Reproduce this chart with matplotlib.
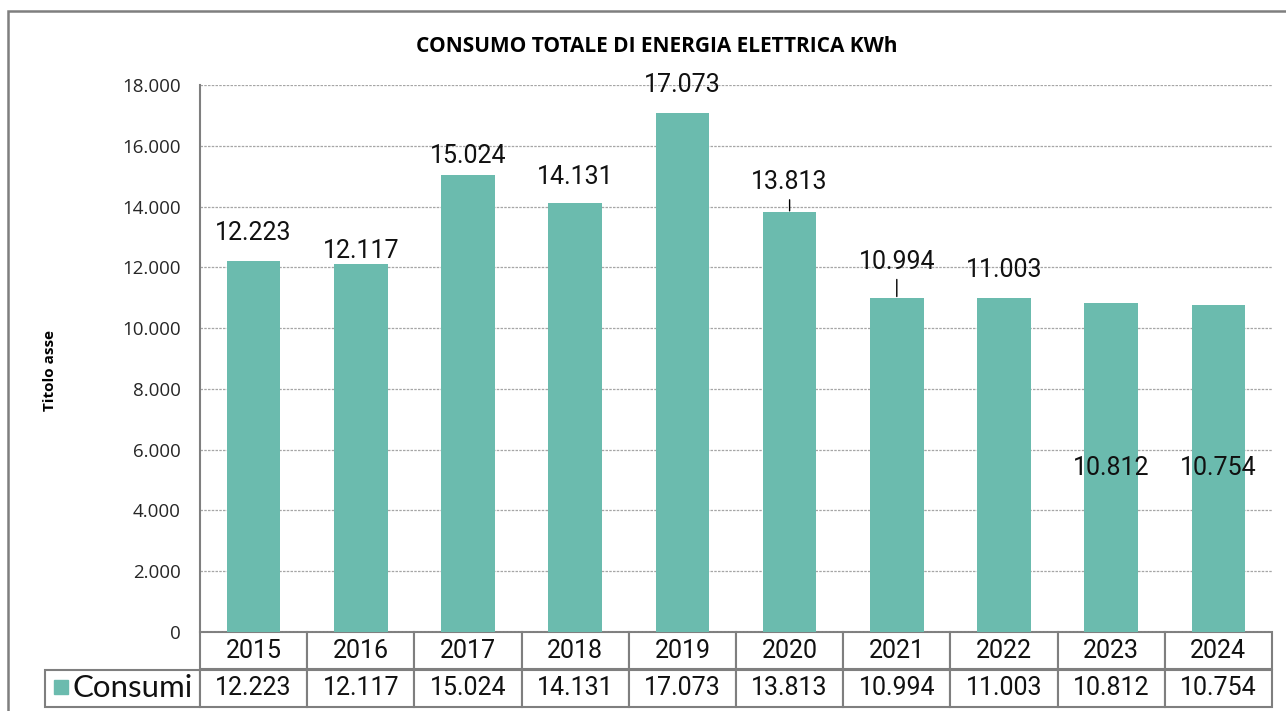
import matplotlib.pyplot as plt
from matplotlib.patches import Rectangle

# dati
anni = ['2015', '2016', '2017', '2018', '2019', '2020', '2021', '2022', '2023', '2024']
consumi = [12223, 12117, 15024, 14131, 17073, 13813, 10994, 11003, 10812, 10754]
nome_serie = 'Consumi'
titolo = 'CONSUMO TOTALE DI ENERGIA ELETTRICA KWh'
titolo_asse = 'Titolo asse'

# spostamento verticale delle etichette (pixel) e linee guida
label_dy = [28, 13, 19, 26, 28, 30, 36, 28, -165, -163]
leader = [False, False, False, False, False, True, True, False, False, False]

colore = '#6BBBAE'
grigio = '#7f7f7f'


def fmt(v):
    return f'{v:,}'.replace(',', '.')


W, H = 1286, 711
fig = plt.figure(figsize=(W / 100, H / 100), dpi=100)
ax = fig.add_axes([200 / W, 1 - 632 / H, 1072 / W, 547 / H])

x = range(len(anni))
ax.bar(x, consumi, width=0.5, color=colore, zorder=2)
ax.set_xlim(-0.5, len(anni) - 0.5)
ax.set_ylim(0, 18000)
ax.set_yticks(range(0, 18001, 2000))
ax.set_yticklabels([fmt(v) for v in range(0, 18001, 2000)],
                   fontfamily='Open Sans', fontsize=13.5, color='#262626')
ax.set_xticks([])
ax.tick_params(axis='y', length=0, pad=14)
ax.yaxis.grid(True, linestyle=(0, (2, 1)), color='#a6a6a6', lw=0.9)
ax.set_axisbelow(True)
for s in ['top', 'right', 'bottom']:
    ax.spines[s].set_visible(False)
ax.spines['left'].set_color(grigio)
ax.spines['left'].set_linewidth(1.5)

# etichette dati
for i, v in enumerate(consumi):
    kw = {}
    if leader[i]:
        kw['arrowprops'] = dict(arrowstyle='-', color='black', lw=1,
                                shrinkA=2, shrinkB=1)
    ax.annotate(fmt(v), xy=(i, v), xytext=(0, label_dy[i]),
                textcoords='offset pixels', ha='center', va='center',
                fontfamily='Roboto', fontsize=18, color='#111111', **kw)

# tabella dati
celle = [[''] + anni, [nome_serie] + [fmt(v) for v in consumi]]
larg = [155] + [107.2] * len(anni)
tab = ax.table(cellText=celle, colWidths=larg, cellLoc='center',
               bbox=[-155 / 1072, -75 / 547, 1227 / 1072, 75 / 547])
tab.auto_set_font_size(False)
tab.set_fontsize(18)
for (r, c), cell in tab.get_celld().items():
    cell.set_edgecolor(grigio)
    cell.set_linewidth(1.5)
    cell.get_text().set_fontfamily('Roboto')
    cell.get_text().set_color('#111111')
    if r == 0 and c == 0:
        cell.set_visible(False)
    if r == 1 and c == 0:
        cell.PAD = 0.18
        cell.get_text().set_horizontalalignment('left')
        cell.get_text().set_fontfamily('Lato')
        cell.get_text().set_fontsize(22.5)

# quadratino legenda
fig.add_artist(Rectangle((54 / W, 1 - 694 / H), 14 / W, 14 / H,
                         transform=fig.transFigure, color=colore))

# titoli
fig.text(657 / W, 1 - 47 / H, titolo, ha='center', va='center',
         fontfamily='Open Sans', fontweight='bold', fontsize=15, color='black')
fig.text(50 / W, 1 - 370 / H, titolo_asse, rotation=90, ha='center', va='center',
         fontfamily='Open Sans', fontweight='bold', fontsize=11, color='black')

# cornice
fig.add_artist(Rectangle((8 / W, -0.5), 1.2, 0.5 + 1 - 10.7 / H,
                         transform=fig.transFigure, fill=False,
                         edgecolor=grigio, lw=1.8))

fig.savefig('out.png', dpi=100)
